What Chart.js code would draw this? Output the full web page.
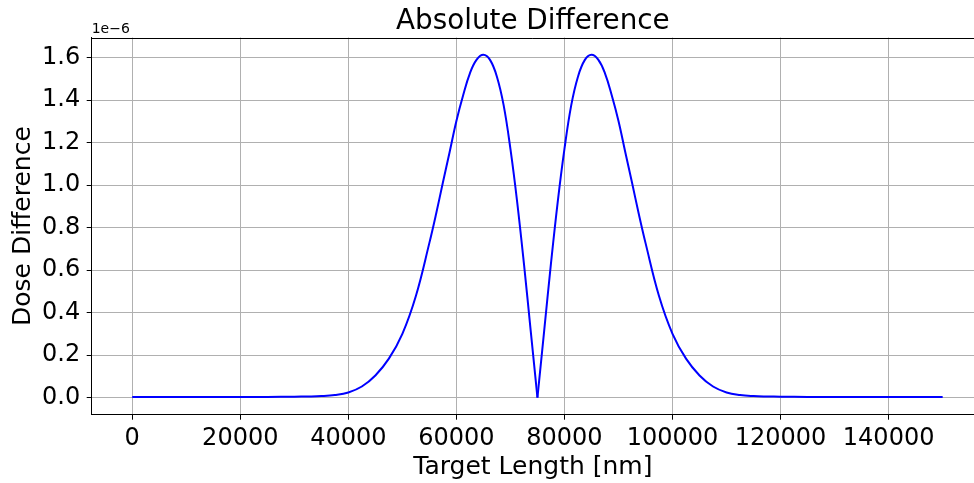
<!DOCTYPE html>
<html>
<head>
<meta charset="utf-8">
<script src="https://cdn.jsdelivr.net/npm/chart.js@4.4.1/dist/chart.umd.min.js"></script>
<style>
  html, body { margin: 0; padding: 0; background: #ffffff; overflow: hidden; }
  #wrap { width: 974px; height: 483px; position: relative; }
</style>
</head>
<body>
<div id="wrap"><canvas id="c" width="974" height="483"></canvas></div>
<script>
// Target length [nm]
const xValues = [0, 5000, 10000, 15000, 20000, 25000, 30000, 32500, 35000, 37500,
  40000, 42500, 45000, 47500, 50000, 52500, 55000, 56250, 57500, 58750,
  60000, 61250, 62500, 63750, 65000, 66250, 67500, 68750, 70000, 71250,
  72500, 73750, 75000, 76250, 77500, 78750, 80000, 81250, 82500, 83750,
  85000, 86250, 87500, 88750, 90000, 91250, 92500, 93750, 95000, 97500,
  100000, 102500, 105000, 107500, 110000, 112500, 115000, 117500, 120000, 125000,
  130000, 135000, 140000, 145000, 150000];
// Absolute dose difference, in units of 1e-6
const yValues = [0.003, 0.003, 0.003, 0.003, 0.003, 0.003, 0.004, 0.005, 0.007, 0.012,
  0.024, 0.052, 0.104, 0.183, 0.300, 0.478, 0.728, 0.865, 1.012, 1.156,
  1.302, 1.423, 1.526, 1.590, 1.613, 1.588, 1.510, 1.375, 1.170, 0.920,
  0.630, 0.315, 0.000, 0.315, 0.630, 0.920, 1.170, 1.375, 1.510, 1.588,
  1.613, 1.590, 1.526, 1.423, 1.302, 1.156, 1.012, 0.865, 0.728, 0.478,
  0.300, 0.183, 0.104, 0.052, 0.024, 0.012, 0.007, 0.005, 0.004, 0.003,
  0.003, 0.003, 0.003, 0.003, 0.003];
const xTicks = [0, 20000, 40000, 60000, 80000, 100000, 120000, 140000];
const yTicks = [0.0, 0.2, 0.4, 0.6, 0.8, 1.0, 1.2, 1.4, 1.6];
const titleText = 'Absolute Difference';
const xLabel = 'Target Length [nm]';
const yLabel = 'Dose Difference';
const offsetText = '1e\u22126';

// split at the V minimum so the cusp stays sharp
const points = xValues.map((x, i) => ({ x: x, y: yValues[i] }));
const minIdx = xValues.indexOf(75000);
const leftPts = points.slice(0, minIdx + 1);
const rightPts = points.slice(minIdx);

Chart.defaults.color = '#000000';
Chart.defaults.font.family = '"DejaVu Sans", sans-serif';

const frame = {
  id: 'frame',
  afterDraw(chart) {
    const { ctx, chartArea } = chart;
    ctx.save();
    ctx.strokeStyle = '#000000';
    ctx.lineWidth = 1;
    ctx.beginPath();
    ctx.moveTo(chartArea.left, Math.round(chartArea.top) + 0.5);
    ctx.lineTo(chartArea.right, Math.round(chartArea.top) + 0.5);
    ctx.stroke();
    ctx.fillStyle = '#000000';
    ctx.font = '14px "DejaVu Sans"';
    ctx.textAlign = 'left';
    ctx.textBaseline = 'alphabetic';
    ctx.fillText(offsetText, chartArea.left, chartArea.top - 4.5);
    ctx.restore();
  }
};

const lineStyle = {
  borderColor: '#0000ff',
  borderWidth: 2,
  pointRadius: 0,
  fill: false,
  tension: 0.4
};

new Chart(document.getElementById('c'), {
  type: 'line',
  data: {
    datasets: [
      Object.assign({ data: leftPts }, lineStyle),
      Object.assign({ data: rightPts }, lineStyle)
    ]
  },
  options: {
    responsive: false,
    animation: false,
    devicePixelRatio: 1,
    layout: { padding: { left: 0, right: 0, top: 0, bottom: 0 } },
    plugins: {
      legend: { display: false },
      tooltip: { enabled: false },
      title: {
        display: true,
        text: titleText,
        fullSize: false,
        font: { size: 27.8, weight: 'normal', lineHeight: 1.0 },
        color: '#000000',
        padding: { top: 7.8, bottom: 1.9 }
      }
    },
    scales: {
      x: {
        type: 'linear',
        min: -7500,
        max: 155800,
        afterBuildTicks(scale) { scale.ticks = xTicks.map(v => ({ value: v })); },
        afterFit(scale) { scale.height = 68.3; },
        ticks: {
          font: { size: 24 },
          color: '#000000',
          padding: 5,
          maxRotation: 0,
          autoSkip: false,
          callback: (v) => String(v)
        },
        grid: { color: '#b0b0b0', lineWidth: 1, tickColor: '#000000', tickLength: 5, tickWidth: 1 },
        border: { color: '#000000', width: 1 },
        title: { display: true, text: xLabel, font: { size: 25 }, color: '#000000', padding: { top: 0, bottom: 0.8 } }
      },
      y: {
        type: 'linear',
        min: -0.0807,
        max: 1.6945,
        afterBuildTicks(scale) { scale.ticks = yTicks.map(v => ({ value: v })); },
        afterFit(scale) { scale.width = 91.7; },
        ticks: {
          font: { size: 24 },
          color: '#000000',
          padding: 6.5,
          autoSkip: false,
          callback: (v) => Number(v).toFixed(1)
        },
        grid: { color: '#b0b0b0', lineWidth: 1, tickColor: '#000000', tickLength: 5, tickWidth: 1 },
        border: { color: '#000000', width: 1 },
        title: { display: true, text: yLabel, font: { size: 25 }, color: '#000000', padding: { top: 8.3, bottom: 0 } }
      }
    }
  },
  plugins: [frame]
});
</script>
</body>
</html>
